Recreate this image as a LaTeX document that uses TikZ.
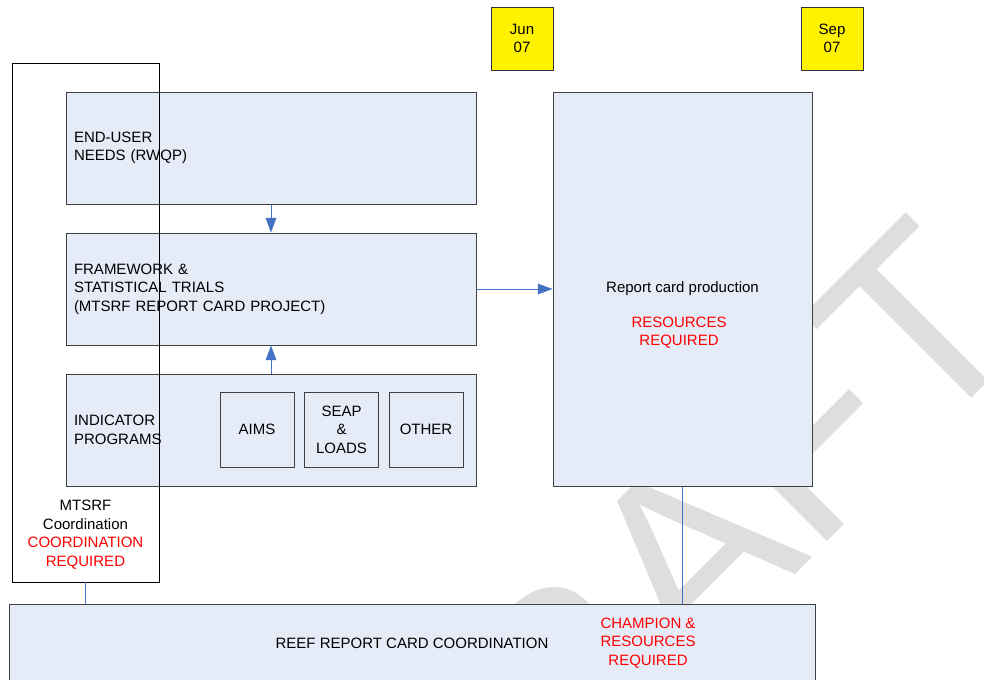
\documentclass[tikz,border=0pt]{standalone}
\usepackage{fontspec}
\setmainfont{Liberation Sans}
\usetikzlibrary{positioning,arrows.meta}
\definecolor{boxblue}{RGB}{230,236,247}
\definecolor{linkblue}{RGB}{68,114,196}
\definecolor{draftgray}{RGB}{222,222,222}

\begin{document}
\begin{tikzpicture}[
    x=0.75pt, y=-0.75pt,
    node distance=105.75pt,
    font=\fontsize{11.25}{13.9}\selectfont,
    panel/.style={rectangle, draw=black!75, line width=0.75pt, fill=boxblue},
    stage/.style={panel, text width=295.5pt, inner sep=6pt, align=left, minimum height=84pt},
    prog/.style={panel, minimum width=55.5pt, minimum height=56.25pt, align=center, inner sep=0pt},
    date/.style={rectangle, draw=black!80, line width=0.75pt, fill=yellow, minimum width=46.5pt, minimum height=47.25pt, align=center, inner sep=0pt},
    need/.style={text=red, align=center},
    link/.style={draw=linkblue, line width=0.75pt},
    flow/.style={link, -{Triangle[length=11pt, width=8pt]}}
]
\useasboundingbox (0,0) rectangle (984,679);

% Draft watermark
\node[rotate=45, text=draftgray, font=\fontsize{193.5}{193.5}\selectfont, inner sep=0pt] (draft) at (669,575) {DRAFT};

% Date markers
\node[date] (jun) at (522,38.5) {Jun\\07};
\node[date] (sep) at (832,38.5) {Sep\\07};

% Reef report card coordination
\node[panel, minimum width=604.5pt, minimum height=58.5pt] (reef) at (412,643) {};
\node (reeflbl) at (412,643) {REEF REPORT CARD COORDINATION};
\node[need] (champion) at (648,643) {CHAMPION \&\\RESOURCES\\REQUIRED};

% End-user needs
\node[stage] (enduser) at (271,148) {END-USER\\NEEDS (RWQP)};

% Framework and trials
\node[stage, below of=enduser] (framework) {FRAMEWORK \&\\STATISTICAL TRIALS\\(MTSRF REPORT CARD PROJECT)};

% Indicator programs
\node[stage, below of=framework] (indicator) {INDICATOR\\PROGRAMS};
\node[prog] (aims) at (257,429.5) {AIMS};
\node[prog, right of=aims, node distance=63.4pt] (seap) {SEAP\\\&\\LOADS};
\node[prog, right of=seap, node distance=63.4pt] (other) {OTHER};

% Report card production
\node[panel, minimum width=194.25pt, minimum height=295.5pt] (prod) at (682.5,289) {};
\node (prodlbl) at (682.5,289) {Report card production};
\node[need] (prodneed) at (679,332.5) {RESOURCES\\REQUIRED};

% MTSRF coordination frame
\node[rectangle, draw, line width=0.6pt, minimum width=110.25pt, minimum height=389.25pt] (mtsrf) at (85.5,322.5) {};
\node[align=center] (mtsrflbl) at (85.5,534.5) {MTSRF\\Coordination\\\textcolor{red}{COORDINATION}\\\textcolor{red}{REQUIRED}};

% Links
\draw[flow] (enduser) -- (framework);
\draw[flow] (indicator) -- (framework);
\draw[flow] (framework) -- (prod);
\draw[link] (prod) -- (prod |- reef.north);
\draw[link] (mtsrf) -- (mtsrf |- reef.north);

\end{tikzpicture}
\end{document}
